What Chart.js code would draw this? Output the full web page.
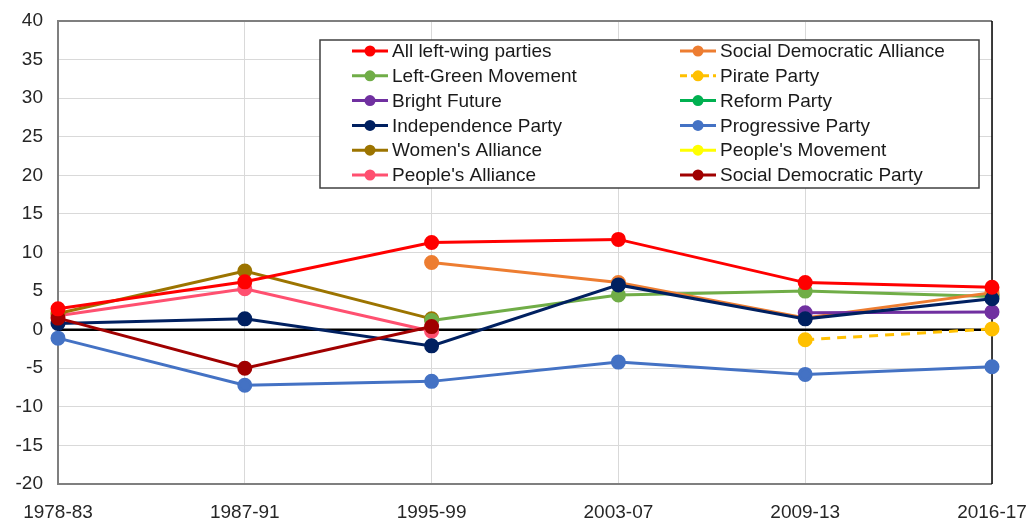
<!DOCTYPE html>
<html>
<head>
<meta charset="utf-8">
<script src="https://cdn.jsdelivr.net/npm/chart.js@4/dist/chart.umd.min.js"></script>
<style>
  html, body { margin: 0; padding: 0; background: #fff; }
  #wrap { width: 1028px; height: 520px; }
</style>
</head>
<body>
<div id="wrap"><canvas id="chart" width="1028" height="520"></canvas></div>
<script>
const periods = ['1978-83', '1987-91', '1995-99', '2003-07', '2009-13', '2016-17'];

const allLeft      = [2.7, 6.2, 11.3, 11.7, 6.1, 5.5];
const sdAlliance   = [null, null, 8.7, 6.1, 1.5, 4.8];
const leftGreen    = [null, null, 1.2, 4.5, 5.0, 4.3];
const pirate       = [null, null, null, null, -1.3, 0.1];
const brightFuture = [null, null, null, null, 2.2, 2.3];
const reform       = [null, null, null, null, null, 4.5];
const independence = [0.8, 1.4, -2.1, 5.8, 1.4, 4.0];
const progressive  = [-1.1, -7.2, -6.7, -4.2, -5.8, -4.8];
const womens       = [2.1, 7.6, 1.4, null, null, null];
const peoplesMove  = [null, null, null, null, null, null];
const peoplesAll   = [1.8, 5.3, -0.2, null, null, null];
const sdParty      = [1.5, -5.0, 0.4, null, null, null];

const yTicks = { min: -20, max: 40, step: 5 };

function series(label, data, color, order, dash) {
  return {
    label: label,
    data: data,
    borderColor: color,
    backgroundColor: color,
    pointBackgroundColor: color,
    pointBorderColor: color,
    borderWidth: 3,
    pointRadius: 6,
    pointHoverRadius: 6,
    borderDash: dash || [],
    order: order,
    clip: false,
    spanGaps: false
  };
}

// legend order (row by row, two columns)
const datasets = [
  series('All left-wing parties', allLeft, '#FF0000', 0),
  series('Social Democratic Alliance', sdAlliance, '#ED7D31', 4),
  series('Left-Green Movement', leftGreen, '#70AD47', 5),
  series('Pirate Party', pirate, '#FFC000', 7, [9, 7]),
  series('Bright Future', brightFuture, '#7030A0', 3),
  series('Reform Party', reform, '#00B050', 6),
  series('Independence Party', independence, '#002060', 2),
  series('Progressive Party', progressive, '#4472C4', 8),
  series("Women's Alliance", womens, '#9C7400', 9),
  series("People's Movement", peoplesMove, '#FFFF00', 11),
  series("People's Alliance", peoplesAll, '#FF5070', 10),
  series('Social Democratic Party', sdParty, '#A00000', 1)
];

const FONT = '"Liberation Sans", Arial, sans-serif';

const framePlugin = {
  id: 'frame',
  beforeDatasetsDraw(chart) {
    const { ctx, chartArea: a, scales } = chart;
    ctx.save();
    // zero line
    const y0 = scales.y.getPixelForValue(0);
    ctx.strokeStyle = '#000';
    ctx.lineWidth = 2.5;
    ctx.beginPath();
    ctx.moveTo(a.left, y0);
    ctx.lineTo(a.right, y0);
    ctx.stroke();
    // plot border
    ctx.strokeStyle = '#7f7f7f';
    ctx.lineWidth = 2;
    ctx.beginPath();
    ctx.moveTo(a.right, a.top);
    ctx.lineTo(a.left, a.top);
    ctx.lineTo(a.left, a.bottom);
    ctx.lineTo(a.right, a.bottom);
    ctx.stroke();
    ctx.strokeStyle = '#000';
    ctx.lineWidth = 1.5;
    ctx.beginPath();
    ctx.moveTo(a.right, a.top);
    ctx.lineTo(a.right, a.bottom);
    ctx.stroke();
    ctx.restore();
  },
  afterDraw(chart) {
    const ctx = chart.ctx;
    const box = { x: 320, y: 40, w: 659, h: 148 };
    ctx.save();
    ctx.fillStyle = '#fff';
    ctx.fillRect(box.x, box.y, box.w, box.h);
    ctx.strokeStyle = '#404040';
    ctx.lineWidth = 1.5;
    ctx.strokeRect(box.x, box.y, box.w, box.h);
    ctx.font = '19px ' + FONT;
    ctx.textBaseline = 'middle';
    ctx.textAlign = 'left';
    const cols = [352, 680];
    const rowY = 51, rowH = 24.8;
    chart.data.datasets.forEach((ds, i) => {
      const col = i % 2;
      const row = Math.floor(i / 2);
      const x = cols[col];
      const y = rowY + row * rowH;
      ctx.strokeStyle = ds.borderColor;
      ctx.lineWidth = 3;
      ctx.setLineDash(ds.borderDash.length ? [7, 4] : []);
      ctx.beginPath();
      ctx.moveTo(x, y);
      ctx.lineTo(x + 36, y);
      ctx.stroke();
      ctx.setLineDash([]);
      ctx.fillStyle = ds.borderColor;
      ctx.beginPath();
      ctx.arc(x + 18, y, 5.5, 0, Math.PI * 2);
      ctx.fill();
      ctx.fillStyle = '#1a1a1a';
      ctx.fillText(ds.label, x + 40, y + 1);
    });
    ctx.restore();
  }
};

new Chart(document.getElementById('chart').getContext('2d'), {
  type: 'line',
  data: { labels: periods, datasets: datasets },
  plugins: [framePlugin],
  options: {
    responsive: false,
    animation: false,
    layout: { padding: { top: 21, right: 36, left: 0, bottom: 0 } },
    plugins: {
      legend: { display: false },
      tooltip: { enabled: false }
    },
    scales: {
      x: {
        offset: false,
        grid: { color: '#d9d9d9', lineWidth: 1, drawTicks: false },
        border: { display: false },
        ticks: {
          font: { family: FONT, size: 19 },
          color: '#262626',
          padding: 17,
          maxRotation: 0,
          autoSkip: false
        },
        afterFit(scale) {
          scale.height = 36;
          scale.paddingLeft = 0;
          scale.paddingRight = 0;
        }
      },
      y: {
        min: yTicks.min,
        max: yTicks.max,
        grid: { color: '#d9d9d9', lineWidth: 1, drawTicks: false },
        border: { display: false },
        ticks: {
          stepSize: yTicks.step,
          font: { family: FONT, size: 19 },
          color: '#262626',
          padding: 15
        },
        afterFit(scale) {
          scale.width = 58;
          scale.paddingTop = 0;
          scale.paddingBottom = 0;
        }
      }
    }
  }
});
</script>
</body>
</html>
